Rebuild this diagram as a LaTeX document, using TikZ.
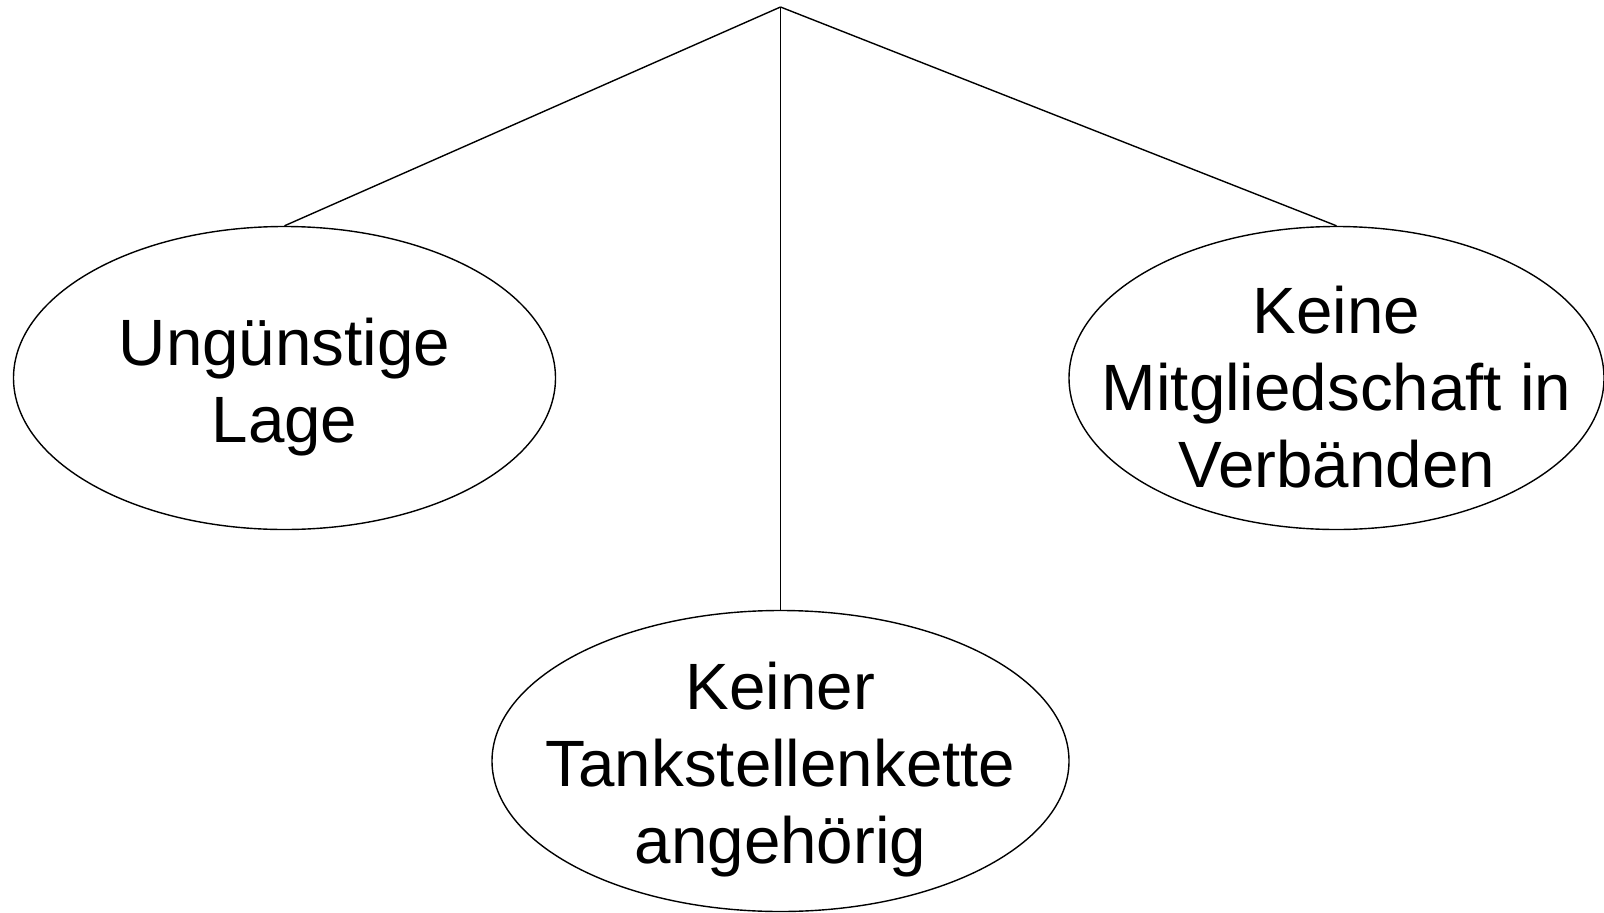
\documentclass[tikz,border=0pt]{standalone}
\usepackage{fontspec}
\setmainfont{Liberation Sans}
\usetikzlibrary{positioning}
\usetikzlibrary{shapes.geometric}
\begin{document}
\begin{tikzpicture}[x=1pt, y=-1pt, line width=1.4pt,
  cause/.style={ellipse, draw, inner sep=0pt},
  causetext/.style={align=center, inner sep=0pt, yshift=-9pt, font=\fontsize{65.5}{77}\selectfont}]
\useasboundingbox (0,0) rectangle (1604,913);

% Nodes
\coordinate (top) at (780.5,7);
\node (lage) [cause, minimum width=542, minimum height=303] at (284.5,378) {};
\node (kette) [cause, minimum width=577, minimum height=301] at (780.5,761) {};
\node (verband) [cause, minimum width=535, minimum height=303] at (1336.5,378) {};

% Texts
\node (lagetext) [causetext] at (lage.center) {Ungünstige\\Lage};
\node (kettetext) [causetext] at (kette.center) {Keiner\\Tankstellenkette\\angehörig};
\node (verbandtext) [causetext] at (verband.center) {Keine\\Mitgliedschaft in\\Verbänden};

% Lines
\draw (top) -- (lage.north);
\draw (top) -- (kette.north);
\draw (top) -- (verband.north);

\end{tikzpicture}
\end{document}
